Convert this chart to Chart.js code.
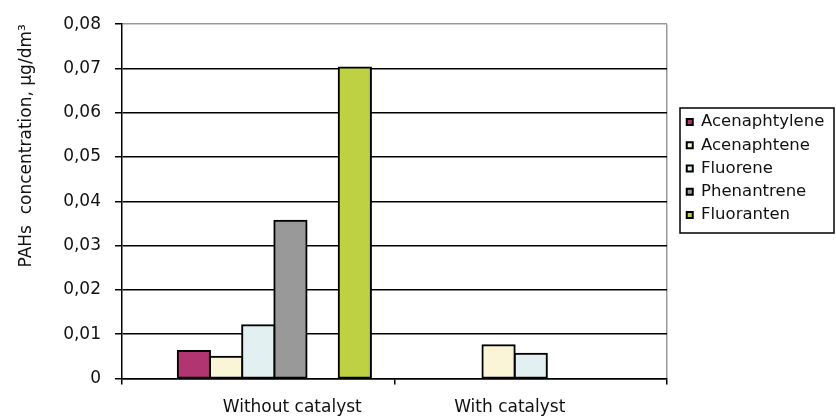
<!DOCTYPE html>
<html>
<head>
<meta charset="utf-8">
<script src="https://cdn.jsdelivr.net/npm/chart.js@4/dist/chart.umd.min.js"></script>
<style>
  html, body { margin: 0; padding: 0; background: #fff; }
  #wrap { width: 836px; height: 417px; position: relative; }
</style>
</head>
<body>
<div id="wrap"><canvas id="c"></canvas></div>
<script>
// PAH concentrations (µg/dm³), with and without the catalyst
const categories = ['Without catalyst', 'With catalyst'];
const acenaphtylene = [0.0062, null];
const acenaphtene   = [0.0049, 0.0075];
const fluorene      = [0.0120, 0.0056];
const phenantrene   = [0.0356, null];
const fluoranten    = [0.0702, null];
const emptySeries   = [null, null];   // series slots with no measured value
const yTickLabels = ['0', '0,01', '0,02', '0,03', '0,04', '0,05', '0,06', '0,07', '0,08'];
const yTitle = 'PAHs  concentration, µg/dm³';

// layout / styling
const FONT = 'DejaVu Sans';
const TEXT = '#111';
const LEGEND_TEXT_X = 701;
const LEGEND_FIRST_ROW_Y = 122;
const LEGEND_FRAME = { left: 680, top: 108, right: 834, bottom: 233 };
const X_LABEL_SHIFT = [34, -21];

function bars(label, data, color) {
  return {
    label, data,
    backgroundColor: color,
    borderColor: '#000',
    borderWidth: 2,
    borderSkipped: false,
    inflateAmount: 1,          // overlap neighbours so shared edges stay solid
    categoryPercentage: 0.827,
    barPercentage: 1
  };
}

const framePlugin = {
  id: 'frames',
  afterLayout(chart) {
    const lg = chart.legend;
    if (!lg) return;
    const o = lg.options.labels;
    const fs = o.font.size;
    lg.left = LEGEND_TEXT_X - (o.padding + o.boxWidth + fs / 2);
    lg.right = LEGEND_FRAME.right;
    lg.width = lg.right - lg.left;
    lg.top = LEGEND_FIRST_ROW_Y - fs / 2 - o.padding;
    lg.bottom = LEGEND_FRAME.bottom;
    lg.height = lg.bottom - lg.top;
  },
  beforeDraw(chart) {
    const sx = chart.scales.x;
    const items = sx.getLabelItems(chart.chartArea);
    items.forEach((it, i) => {
      if (!it._moved) {
        it.options.translation[0] += X_LABEL_SHIFT[i] || 0;
        it._moved = true;
      }
    });
  },
  afterDraw(chart) {
    const c = chart.ctx, F = LEGEND_FRAME;
    c.save();
    c.strokeStyle = '#000';
    c.lineWidth = 1.5;
    c.strokeRect(F.left, F.top, F.right - F.left, F.bottom - F.top);
    c.restore();
  }
};

new Chart(document.getElementById('c'), {
  type: 'bar',
  data: {
    labels: categories,
    datasets: [
      bars('', emptySeries, '#ffffff'),
      bars('Acenaphtylene', acenaphtylene, '#b03570'),
      bars('Acenaphtene', acenaphtene, '#fbf5d8'),
      bars('Fluorene', fluorene, '#e3f0f1'),
      bars('Phenantrene', phenantrene, '#999999'),
      bars('', emptySeries, '#ffffff'),
      bars('Fluoranten', fluoranten, '#bdd143')
    ]
  },
  options: {
    responsive: true,
    maintainAspectRatio: false,
    devicePixelRatio: 1,
    animation: false,
    events: [],
    layout: { padding: { top: 24, right: 19, bottom: 0, left: 0 } },
    plugins: {
      tooltip: { enabled: false },
      legend: {
        position: 'right',
        align: 'start',
        maxWidth: 150,
        labels: {
          boxWidth: 6,
          boxHeight: 6,
          padding: 6.75,
          color: TEXT,
          font: { family: FONT, size: 16.5 },
          filter: item => item.text !== ''
        }
      }
    },
    scales: {
      x: {
        offset: true,
        grid: {
          offset: true,
          drawOnChartArea: true,
          color: c => (c.index === undefined ? '#9a9a9a' : 'rgba(0,0,0,0)'),
          tickColor: '#000',
          tickLength: 6,
          lineWidth: 1.5
        },
        border: { color: '#000', width: 1.5 },
        ticks: {
          color: TEXT,
          font: { family: FONT, size: 17 },
          padding: 13,
          maxRotation: 0,
          autoSkip: false
        },
        afterFit: s => { s.height = 38.5; }
      },
      y: {
        min: 0,
        max: 0.08,
        grid: {
          color: c => (c.index === 8 ? '#9a9a9a' : '#000'),
          tickColor: '#000',
          tickLength: 7,
          lineWidth: 1.5
        },
        border: { color: '#000', width: 1.5 },
        ticks: {
          stepSize: 0.01,
          color: TEXT,
          font: { family: FONT, size: 17 },
          padding: 14,
          callback: (v, i) => yTickLabels[i]
        },
        title: {
          display: true,
          text: yTitle,
          align: 'end',
          color: TEXT,
          font: { family: FONT, size: 17 },
          padding: { top: 16, bottom: 0 }
        },
        afterFit: s => { s.width = 122; }
      }
    }
  },
  plugins: [framePlugin]
});
</script>
</body>
</html>
